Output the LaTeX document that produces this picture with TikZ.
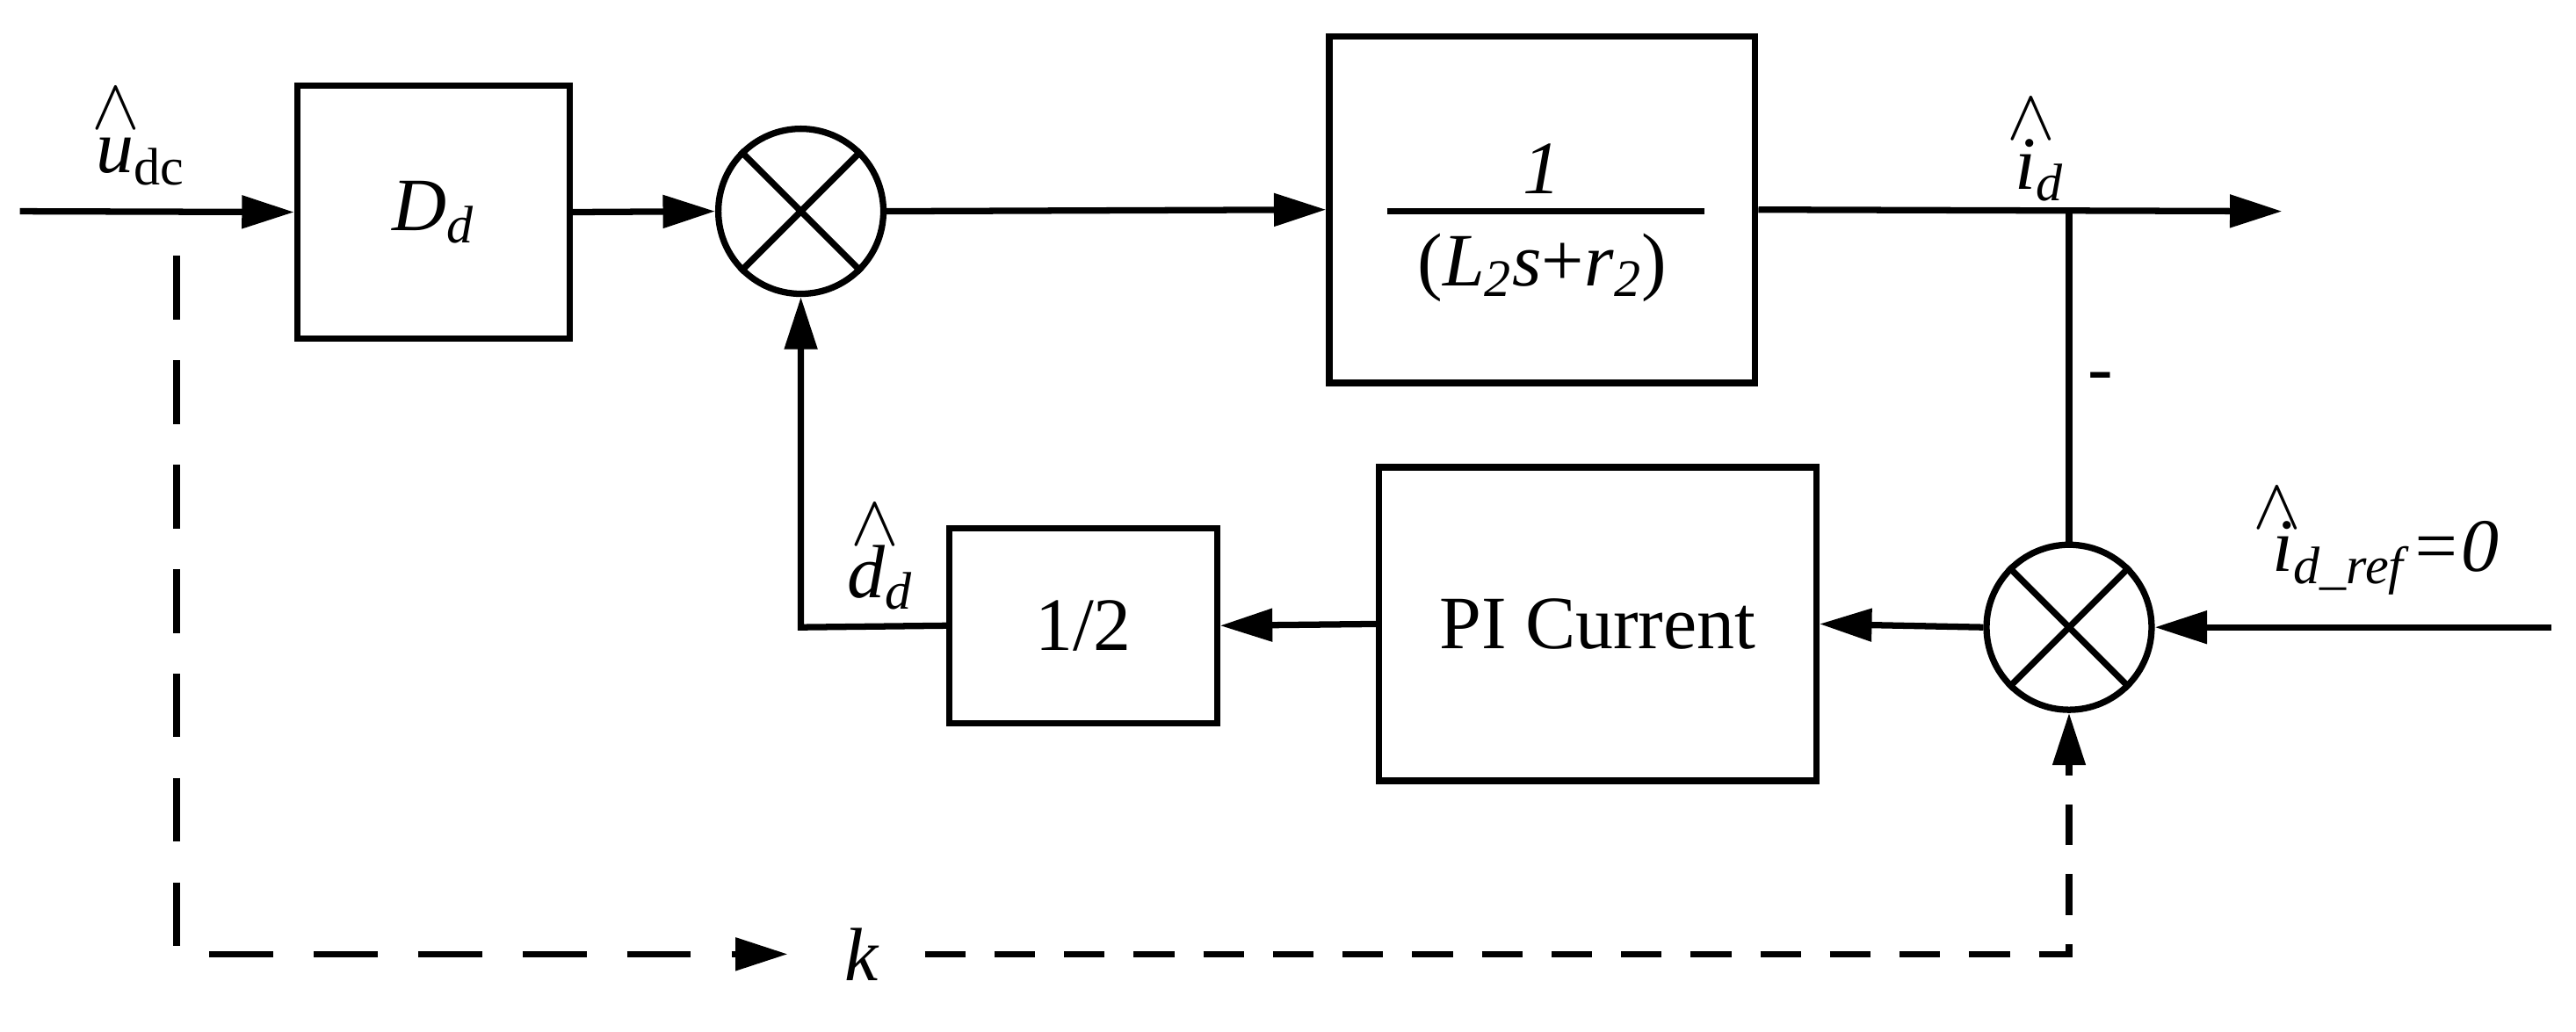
\documentclass[tikz,border=0pt]{standalone}
\usepackage{fontspec}
\setmainfont{Liberation Serif}
\usetikzlibrary{arrows.meta}
\begin{document}
\begin{tikzpicture}[x=0.02cm,y=-0.02cm,line width=2.2pt,
  font=\fontsize{26}{30}\selectfont,
  box/.style={draw,rectangle,inner sep=0pt},
  sum/.style={draw,circle,minimum size=2cm,inner sep=0pt},
  arr/.style={-{Triangle[length=18pt,width=11pt]}},
  dsh/.style={dash pattern=on 22pt off 14pt},
  lbl/.style={inner sep=0pt},
  hat/.style={inner sep=0pt,font=\fontsize{24}{24}\selectfont}]
\useasboundingbox (0,0) rectangle (1560,625);
\node[box,minimum width=3.3cm,minimum height=3.06cm] (Dd) at (262.5,128.5) {\textit{D}\textsubscript{\textit{d}}};
\node[sum] (s1) at (485,128) {};
\draw (s1.45)--(s1.225) (s1.135)--(s1.315);
\node[box,minimum width=5.16cm,minimum height=4.2cm] (tf) at (934,127) {};
\node[lbl] (one) at (934,102) {\itshape 1};
\draw (840,128)--(1032,128);
\node[lbl] (den) at (934,162) {(\textit{L}\textsubscript{\textit{2}}\textit{s}+\textit{r}\textsubscript{\textit{2}})};
\node[sum] (s2) at (1253,380) {};
\draw (s2.45)--(s2.225) (s2.135)--(s2.315);
\node[box,minimum width=5.3cm,minimum height=3.8cm] (pi) at (967.5,378) {PI Current};
\node[box,minimum width=3.24cm,minimum height=2.36cm] (half) at (656,379) {1/2};
\coordinate (in) at (12,128);
\coordinate (out) at (1382,128);
\coordinate (tap) at (1253,128);
\coordinate (ref) at (1545,380);
\coordinate (dc) at (485,380);
\coordinate (d0) at (107,155);
\coordinate (d1) at (107,578);
\coordinate (d2) at (477,578);
\coordinate (d3) at (560,578);
\coordinate (d4) at (1253,578);
\draw[arr] (in)--(Dd.west);
\draw[arr] (Dd.east)--(s1.west);
\draw[arr] (s1.east)--(tf.west);
\draw[arr] (tf.east)--(out);
\draw (tap)--(s2.north);
\draw[arr] (ref)--(s2.east);
\draw[arr] (s2.west)--(pi.east);
\draw[arr] (pi.west)--(half.east);
\draw[arr] (half.west)--(dc)--(s1.south);
\draw[dsh,arr] (d0)--(d1)--(d2);
\draw[dash pattern=on 14pt off 10pt] (d3)--(d4)--(1253,455);
\draw[arr] (1253,455)--(s2.south);
\node[lbl] (udc) at (85,98) {\textit{u}\textsubscript{dc}};
\node[hat] (udch) at (70,66) {$\wedge$};
\node[lbl] (id) at (1235,103) {\textit{i}\textsubscript{\textit{d}}};
\node[hat] (idh) at (1230,72) {$\wedge$};
\node[lbl] (minus) at (1272,232) {-};
\node[lbl] (dd) at (533,350) {\textit{d}\textsubscript{\textit{d}}};
\node[hat] (ddh) at (530,318) {$\wedge$};
\node[lbl] (iref) at (1445,338) {\textit{i}\textsubscript{\textit{d\_ref}}\textit{=0}};
\node[hat] (irefh) at (1379,308) {$\wedge$};
\node[lbl] (k) at (522,578) {\textit{k}};
\end{tikzpicture}
\end{document}
